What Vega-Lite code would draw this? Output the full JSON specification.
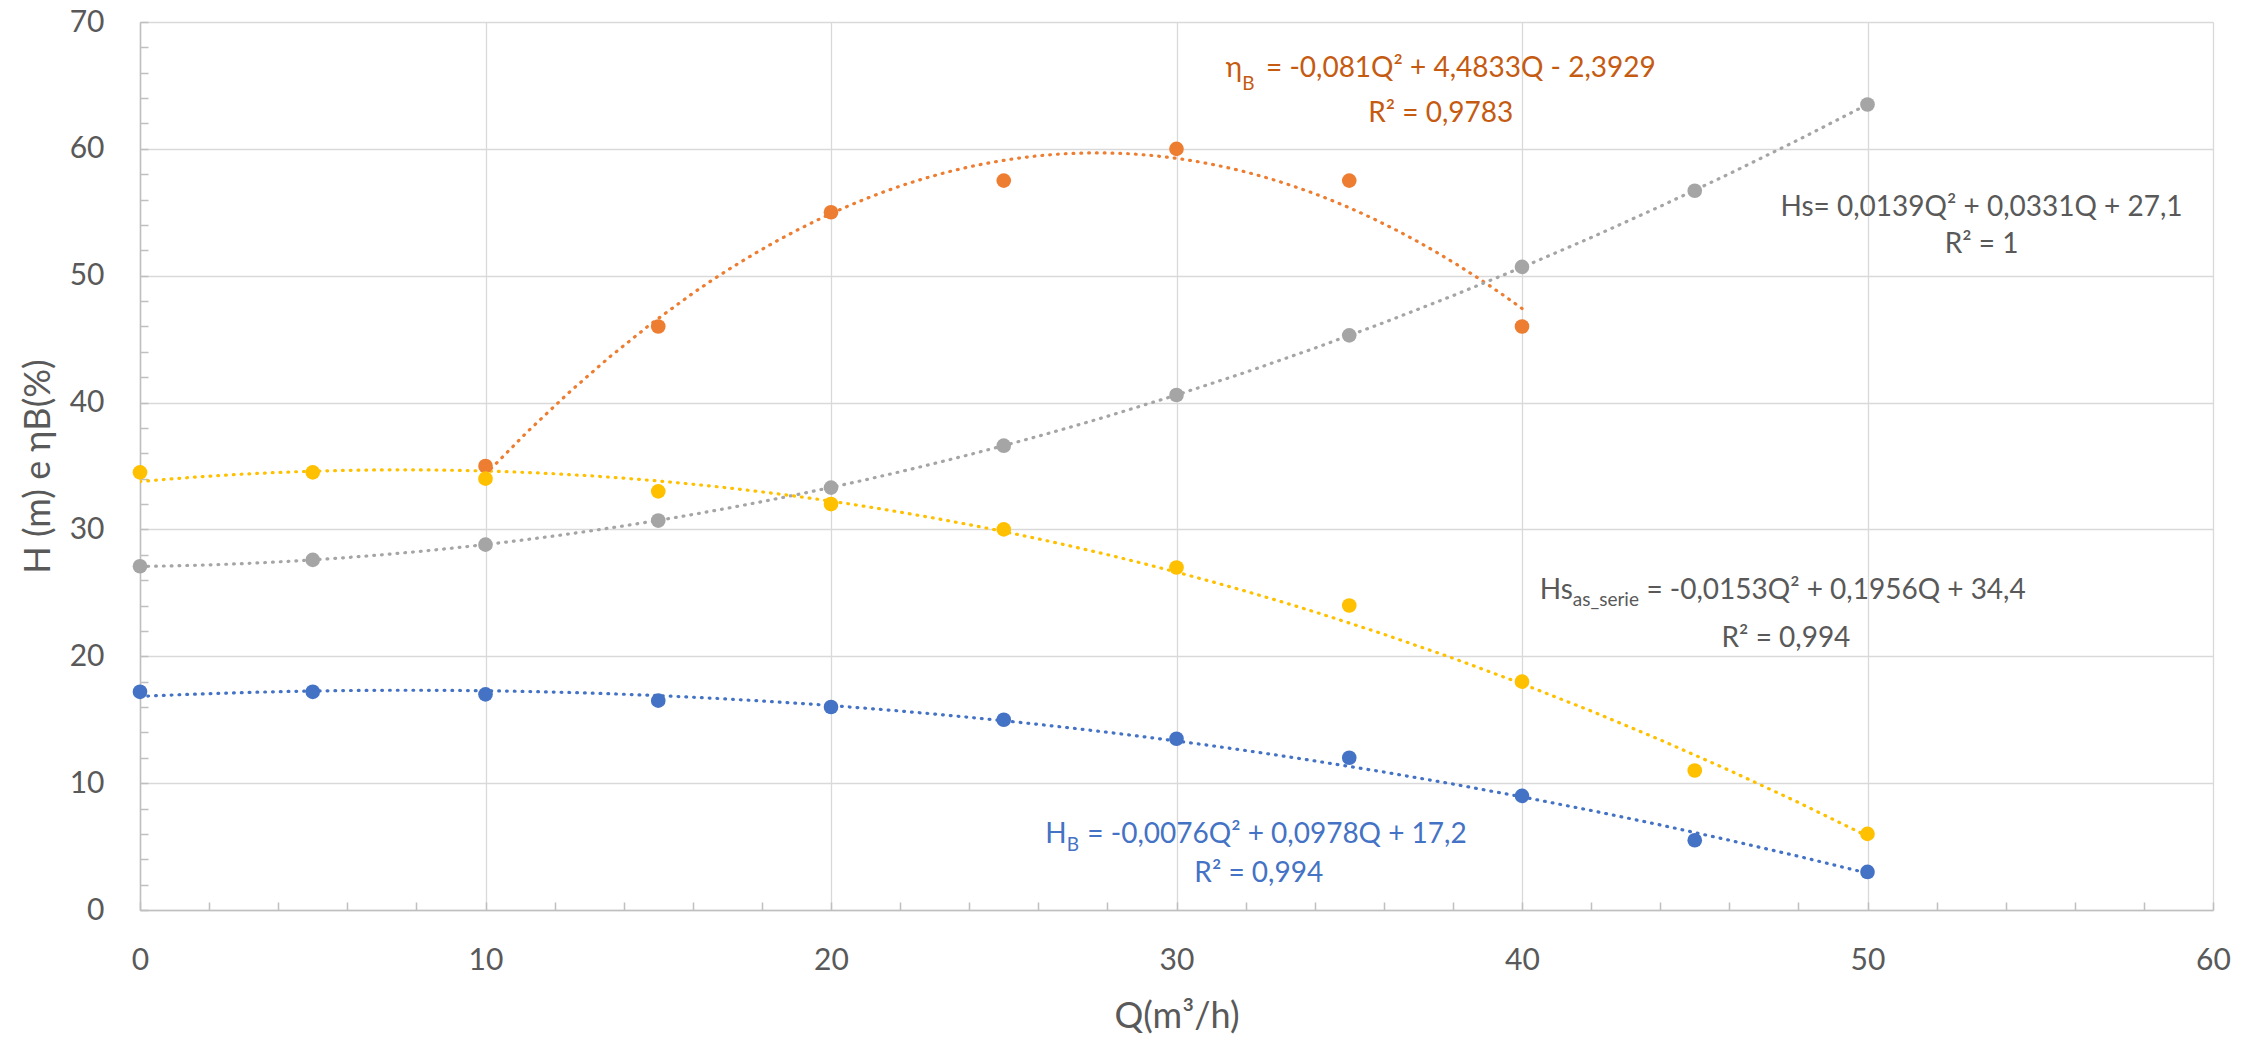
{
  "$schema": "https://vega.github.io/schema/vega-lite/v6.json",
  "width": 2073,
  "height": 888,
  "autosize": {"type": "none"},
  "padding": {"left": 140, "top": 22, "right": 48, "bottom": 129},
  "background": "#ffffff",
  "config": {"view": {"stroke": null}, "font": "Lato"},
  "datasets": {
    "pts": [
      {"series": "HB", "Q": 0, "v": 17.2}, {"series": "HB", "Q": 5, "v": 17.2}, {"series": "HB", "Q": 10, "v": 17.0},
      {"series": "HB", "Q": 15, "v": 16.5}, {"series": "HB", "Q": 20, "v": 16.0}, {"series": "HB", "Q": 25, "v": 15.0},
      {"series": "HB", "Q": 30, "v": 13.5}, {"series": "HB", "Q": 35, "v": 12.0}, {"series": "HB", "Q": 40, "v": 9.0},
      {"series": "HB", "Q": 45, "v": 5.5}, {"series": "HB", "Q": 50, "v": 3.0},
      {"series": "ηB", "Q": 10, "v": 35.0}, {"series": "ηB", "Q": 15, "v": 46.0}, {"series": "ηB", "Q": 20, "v": 55.0},
      {"series": "ηB", "Q": 25, "v": 57.5}, {"series": "ηB", "Q": 30, "v": 60.0}, {"series": "ηB", "Q": 35, "v": 57.5},
      {"series": "ηB", "Q": 40, "v": 46.0},
      {"series": "Hs", "Q": 0, "v": 27.1}, {"series": "Hs", "Q": 5, "v": 27.6}, {"series": "Hs", "Q": 10, "v": 28.8},
      {"series": "Hs", "Q": 15, "v": 30.7}, {"series": "Hs", "Q": 20, "v": 33.3}, {"series": "Hs", "Q": 25, "v": 36.6},
      {"series": "Hs", "Q": 30, "v": 40.6}, {"series": "Hs", "Q": 35, "v": 45.3}, {"series": "Hs", "Q": 40, "v": 50.7},
      {"series": "Hs", "Q": 45, "v": 56.7}, {"series": "Hs", "Q": 50, "v": 63.5},
      {"series": "Hs_as_serie", "Q": 0, "v": 34.5}, {"series": "Hs_as_serie", "Q": 5, "v": 34.5}, {"series": "Hs_as_serie", "Q": 10, "v": 34.0},
      {"series": "Hs_as_serie", "Q": 15, "v": 33.0}, {"series": "Hs_as_serie", "Q": 20, "v": 32.0}, {"series": "Hs_as_serie", "Q": 25, "v": 30.0},
      {"series": "Hs_as_serie", "Q": 30, "v": 27.0}, {"series": "Hs_as_serie", "Q": 35, "v": 24.0}, {"series": "Hs_as_serie", "Q": 40, "v": 18.0},
      {"series": "Hs_as_serie", "Q": 45, "v": 11.0}, {"series": "Hs_as_serie", "Q": 50, "v": 6.0}
    ],
    "labels": [
      {"kind": "pre", "series": "ηB", "Q": 31.9, "v": 65.69, "t": "η"},
      {"kind": "pre", "series": "Hs_as_serie", "Q": 41.47, "v": 24.5, "t": "Hs"},
      {"kind": "pre", "series": "HB", "Q": 26.82, "v": 5.25, "t": "H"},
      {"kind": "sub", "series": "ηB", "Q": 31.9, "v": 64.64, "t": "B"},
      {"kind": "sub", "series": "Hs_as_serie", "Q": 41.47, "v": 23.95, "t": "as_serie"},
      {"kind": "sub", "series": "HB", "Q": 26.82, "v": 4.67, "t": "B"},
      {"kind": "rest", "series": "ηB", "Q": 32.59, "v": 65.69, "t": "= -0,081Q² + 4,4833Q - 2,3929"},
      {"kind": "rest", "series": "Hs_as_serie", "Q": 43.6, "v": 24.5, "t": "= -0,0153Q² + 0,1956Q + 34,4"},
      {"kind": "rest", "series": "HB", "Q": 27.42, "v": 5.25, "t": "= -0,0076Q² + 0,0978Q + 17,2"},
      {"kind": "mid", "series": "ηB", "Q": 37.65, "v": 62.13, "t": "R² = 0,9783"},
      {"kind": "mid", "series": "Hs", "Q": 53.3, "v": 54.73, "t": "Hs= 0,0139Q² + 0,0331Q + 27,1"},
      {"kind": "mid", "series": "Hs", "Q": 53.3, "v": 51.76, "t": "R² = 1"},
      {"kind": "mid", "series": "Hs_as_serie", "Q": 47.64, "v": 20.7, "t": "R² = 0,994"},
      {"kind": "mid", "series": "HB", "Q": 32.38, "v": 2.23, "t": "R² = 0,994"}
    ]
  },
  "encoding": {
    "x": {
      "field": "Q", "type": "quantitative",
      "scale": {"domain": [0, 60], "nice": false, "zero": false},
      "axis": {
        "title": "Q(m³/h)",
        "values": [0,2,4,6,8,10,12,14,16,18,20,22,24,26,28,30,32,34,36,38,40,42,44,46,48,50,52,54,56,58,60],
        "labelExpr": "datum.value % 10 === 0 ? datum.label : ''",
        "labelOverlap": false, "labelFlush": false, "labelBound": false,
        "labelFont": "Lato", "labelFontSize": 30, "labelColor": "#595959", "labelPadding": 43,
        "tickSize": -8, "tickColor": "#BFBFBF", "tickWidth": 1.5,
        "domainColor": "#BFBFBF", "domainWidth": 1.5,
        "grid": true, "gridColor": "#D9D9D9", "gridWidth": 1.3,
        "gridOpacity": {"condition": {"test": "datum.value % 10 === 0", "value": 1}, "value": 0},
        "titleFont": "Lato", "titleFontSize": 36, "titleFontWeight": "normal", "titleColor": "#595959", "titlePadding": 24
      }
    },
    "y": {
      "field": "v", "type": "quantitative",
      "scale": {"domain": [0, 70], "nice": false},
      "axis": {
        "title": "H (m) e ηB(%)",
        "values": [0,2,4,6,8,10,12,14,16,18,20,22,24,26,28,30,32,34,36,38,40,42,44,46,48,50,52,54,56,58,60,62,64,66,68,70],
        "labelExpr": "datum.value % 10 === 0 ? datum.label : ''",
        "labelOverlap": false, "labelFlush": false, "labelBound": false,
        "labelFont": "Lato", "labelFontSize": 30, "labelColor": "#595959", "labelPadding": 44,
        "tickSize": -8, "tickColor": "#BFBFBF", "tickWidth": 1.5,
        "domainColor": "#BFBFBF", "domainWidth": 1.5,
        "grid": true, "gridColor": "#D9D9D9", "gridWidth": 1.3,
        "gridOpacity": {"condition": {"test": "datum.value % 10 === 0", "value": 1}, "value": 0},
        "titleFont": "Lato", "titleFontSize": 36, "titleFontWeight": "normal", "titleColor": "#595959", "titlePadding": 12
      }
    }
  },
  "layer": [
    {
      "data": {"name": "pts"},
      "transform": [{"regression": "v", "on": "Q", "method": "poly", "order": 2, "groupby": ["series"]}],
      "mark": {"type": "line", "strokeWidth": 3.2, "strokeDash": [0.8, 7], "strokeCap": "round", "clip": true},
      "encoding": {
        "color": {"field": "series", "type": "nominal", "legend": null,
          "scale": {"domain": ["HB", "ηB", "Hs", "Hs_as_serie"], "range": ["#4472C4", "#ED7D31", "#A5A5A5", "#FFC000"]}}
      }
    },
    {
      "data": {"name": "pts"},
      "mark": {"type": "point", "filled": true, "size": 215, "opacity": 1, "strokeWidth": 0},
      "encoding": {
        "color": {"field": "series", "type": "nominal", "legend": null,
          "scale": {"domain": ["HB", "ηB", "Hs", "Hs_as_serie"], "range": ["#4472C4", "#ED7D31", "#A5A5A5", "#FFC000"]}}
      }
    },
    {
      "data": {"name": "labels"},
      "transform": [{"filter": "datum.kind === 'pre'"}],
      "mark": {"type": "text", "align": "right", "baseline": "alphabetic", "fontSize": 28, "font": "Lato"},
      "encoding": {
        "text": {"field": "t"},
        "color": {"field": "series", "type": "nominal", "legend": null,
          "scale": {"domain": ["HB", "ηB", "Hs", "Hs_as_serie"], "range": ["#4472C4", "#C55A11", "#595959", "#595959"]}}
      }
    },
    {
      "data": {"name": "labels"},
      "transform": [{"filter": "datum.kind === 'sub'"}],
      "mark": {"type": "text", "align": "left", "baseline": "alphabetic", "fontSize": 19, "font": "Lato"},
      "encoding": {
        "text": {"field": "t"},
        "color": {"field": "series", "type": "nominal", "legend": null,
          "scale": {"domain": ["HB", "ηB", "Hs", "Hs_as_serie"], "range": ["#4472C4", "#C55A11", "#595959", "#595959"]}}
      }
    },
    {
      "data": {"name": "labels"},
      "transform": [{"filter": "datum.kind === 'rest'"}],
      "mark": {"type": "text", "align": "left", "baseline": "alphabetic", "fontSize": 28, "font": "Lato"},
      "encoding": {
        "text": {"field": "t"},
        "color": {"field": "series", "type": "nominal", "legend": null,
          "scale": {"domain": ["HB", "ηB", "Hs", "Hs_as_serie"], "range": ["#4472C4", "#C55A11", "#595959", "#595959"]}}
      }
    },
    {
      "data": {"name": "labels"},
      "transform": [{"filter": "datum.kind === 'mid'"}],
      "mark": {"type": "text", "align": "center", "baseline": "alphabetic", "fontSize": 28, "font": "Lato"},
      "encoding": {
        "text": {"field": "t"},
        "color": {"field": "series", "type": "nominal", "legend": null,
          "scale": {"domain": ["HB", "ηB", "Hs", "Hs_as_serie"], "range": ["#4472C4", "#C55A11", "#595959", "#595959"]}}
      }
    }
  ],
  "resolve": {"scale": {"color": "independent"}}
}
